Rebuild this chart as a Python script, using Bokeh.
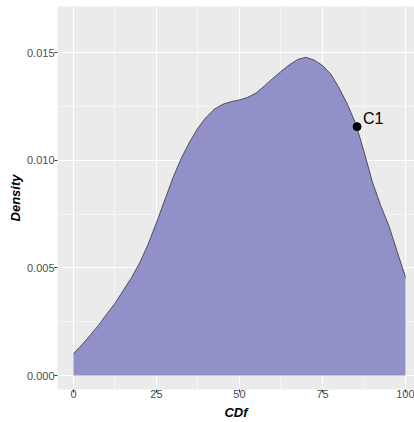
from bokeh.plotting import figure
from bokeh.models import Range1d, FixedTicker, ColumnDataSource
from bokeh.core.properties import value
from bokeh.embed import file_html
from bokeh.resources import INLINE

# Density estimate of CDf, sampled along the x axis
cdf = [0, 2.5, 5, 7.5, 10, 12.5, 15, 17.5, 20, 22.5, 25, 27.5, 30, 32.5, 35,
       37.5, 40, 42.5, 45, 47.5, 50, 52.5, 55, 57.5, 60, 62.5, 65, 67.5, 70,
       72.5, 75, 77.5, 80, 82.5, 85, 87.5, 90, 92.5, 95, 97.5, 100]
density = [0.00101, 0.00142, 0.00186, 0.00232, 0.00285, 0.00335, 0.00395,
           0.00455, 0.00525, 0.00610, 0.00710, 0.00815, 0.00920, 0.01010,
           0.01085, 0.01150, 0.01200, 0.01238, 0.01260, 0.01272, 0.01280,
           0.01292, 0.01312, 0.01345, 0.01380, 0.01412, 0.01443, 0.01468,
           0.01478, 0.01465, 0.01440, 0.01400, 0.01335, 0.01260, 0.01170,
           0.01040, 0.00900, 0.00790, 0.00695, 0.00575, 0.00456]

# Highlighted observation
point_x = [85.4]
point_y = [0.01156]
point_label = ["C1"]

x_ticks = [0, 25, 50, 75, 100]
y_ticks = [0.0, 0.005, 0.010, 0.015]
y_tick_labels = {0.0: "0.000", 0.005: "0.005", 0.010: "0.010", 0.015: "0.015"}

FONT = "Liberation Sans"

p = figure(width=414, height=422, output_backend="svg", toolbar_location=None,
           x_range=Range1d(-4.8, 102.7), y_range=Range1d(-0.00065, 0.01714),
           min_border_left=57, min_border_right=0, min_border_top=6,
           min_border_bottom=33)
p.outline_line_color = None
p.background_fill_color = "#EBEBEB"
p.border_fill_color = "white"

src = ColumnDataSource(dict(x=cdf, y=density))
p.varea(x="x", y1=0, y2="y", source=src, fill_color="#9190C8")
p.line(x="x", y="y", source=src, line_color="#333333", line_width=0.8)

p.scatter(point_x, point_y, size=8, color="black")
p.text(point_x, point_y, text=point_label, x_offset=6, y_offset=-8,
       text_baseline="middle", text_align="left", text_font=value(FONT),
       text_font_size="16px", text_color="black")

# Axes
p.xaxis.ticker = FixedTicker(ticks=x_ticks, minor_ticks=[12.5, 37.5, 62.5, 87.5])
p.yaxis.ticker = FixedTicker(ticks=y_ticks, minor_ticks=[0.0025, 0.0075, 0.0125])
p.yaxis.major_label_overrides = y_tick_labels
p.xaxis.axis_label = "CDf"
p.yaxis.axis_label = "Density"
for ax in (p.xaxis, p.yaxis):
    ax.axis_line_color = None
    ax.major_tick_line_color = "#333333"
    ax.major_tick_out = 3
    ax.major_tick_in = 0
    ax.minor_tick_line_color = None
    ax.major_label_text_font = FONT
    ax.major_label_text_font_size = "11px"
    ax.major_label_text_color = "#4D4D4D"
    ax.axis_label_text_font = FONT
    ax.axis_label_text_font_size = "13px"
    ax.axis_label_text_font_style = "bold italic"
    ax.axis_label_text_color = "black"
p.xaxis.major_label_standoff = -4
p.xaxis.axis_label_standoff = 4
p.yaxis.major_label_standoff = -1
p.yaxis.axis_label_standoff = 1

# Grid
for g in (p.xgrid, p.ygrid):
    g.grid_line_color = "white"
    g.grid_line_width = 1.1
    g.minor_grid_line_color = "white"
    g.minor_grid_line_width = 0.5

open("out.html", "w").write(file_html(p, INLINE))
